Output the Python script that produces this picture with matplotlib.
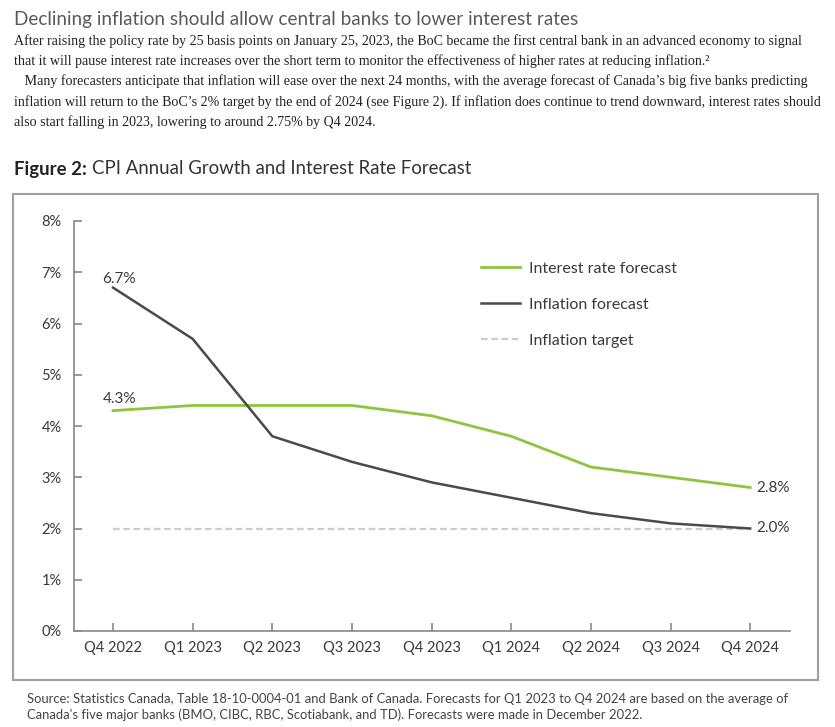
import matplotlib.pyplot as plt
from matplotlib.patches import Rectangle

quarters = ["Q4 2022", "Q1 2023", "Q2 2023", "Q3 2023", "Q4 2023",
            "Q1 2024", "Q2 2024", "Q3 2024", "Q4 2024"]
interest_rate = [4.3, 4.4, 4.4, 4.4, 4.2, 3.8, 3.2, 3.0, 2.8]
inflation = [6.7, 5.7, 3.8, 3.3, 2.9, 2.6, 2.3, 2.1, 2.0]
inflation_target = [2.0] * len(quarters)
y_ticks = [0, 1, 2, 3, 4, 5, 6, 7, 8]

GREEN = "#8cc63f"
DARK = "#4a4a4a"
TARGET = "#cccccc"
TEXT = "#3a3a3a"

plt.rcParams['font.family'] = ['Lato', 'DejaVu Sans']

W, H = 835, 727
fig = plt.figure(figsize=(W / 100, H / 100), dpi=100)


def fx(px):
    return px / W


def fy(py):
    return 1 - py / H


# text above the chart
fig.text(fx(14), fy(20), "Declining inflation should allow central banks to lower interest rates",
         fontsize=13.6, color="#5a5a5a", va="center", ha="left")
para = [
    "After raising the policy rate by 25 basis points on January 25, 2023, the BoC became the first central bank in an advanced economy to signal",
    "that it will pause interest rate increases over the short term to monitor the effectiveness of higher rates at reducing inflation.\u00b2",
    "   Many forecasters anticipate that inflation will ease over the next 24 months, with the average forecast of Canada\u2019s big five banks predicting",
    "inflation will return to the BoC\u2019s 2% target by the end of 2024 (see Figure 2). If inflation does continue to trend downward, interest rates should",
    "also start falling in 2023, lowering to around 2.75% by Q4 2024.",
]
for i, line in enumerate(para):
    fig.text(fx(14), fy(41 + i * 20.2), line, fontsize=10.1, family="Liberation Serif",
             color="#222222", va="center", ha="left")

# figure title
t1 = fig.text(fx(14), fy(169), "Figure 2:", fontsize=13.4, fontweight="bold",
              color="#222222", va="center", ha="left")
fig.canvas.draw()
bb = t1.get_window_extent()
fig.text(bb.x1 / W + fx(5), fy(169), "CPI Annual Growth and Interest Rate Forecast",
         fontsize=13.4, color="#333333", va="center", ha="left")

# frame around chart
fig.patches.append(Rectangle((fx(13), fy(680)), fx(818 - 13), fy(194) - fy(680),
                             transform=fig.transFigure, fill=False,
                             edgecolor="#a0a0a0", linewidth=1.5))

ax = fig.add_axes([fx(74), fy(631), fx(790 - 74), fy(221) - fy(631)])
x = list(range(len(quarters)))
ax.plot(x, inflation_target, color=TARGET, linewidth=1.6, dashes=(3, 1.6), label="Inflation target", zorder=1)
ax.plot(x, interest_rate, color=GREEN, linewidth=2, label="Interest rate forecast", zorder=2)
ax.plot(x, inflation, color=DARK, linewidth=1.8, label="Inflation forecast", zorder=3)

ax.set_xlim(-0.49, 8.5)
ax.set_ylim(0, 8)
ax.set_yticks(y_ticks)
ax.set_yticklabels([f"{v}%" for v in y_ticks])
ax.set_xticks(x)
ax.set_xticklabels(quarters)
for s in ["top", "right"]:
    ax.spines[s].set_visible(False)
for s in ["left", "bottom"]:
    ax.spines[s].set_color("#888888")
    ax.spines[s].set_linewidth(1.2)
ax.tick_params(axis="both", direction="in", length=6, width=1.2, color="#888888",
               labelsize=10.5, labelcolor=TEXT)
ax.tick_params(axis="y", pad=9)
ax.tick_params(axis="x", pad=7)
ax.patch.set_alpha(0)

# value labels
ax.annotate(f"{inflation[0]}%", (x[0], inflation[0]), xytext=(-7.5, 3), textcoords="offset points",
            fontsize=11, color=TEXT, ha="left", va="baseline")
ax.annotate(f"{interest_rate[0]}%", (x[0], interest_rate[0]), xytext=(-7.5, 5.5), textcoords="offset points",
            fontsize=11, color=TEXT, ha="left", va="baseline")
ax.annotate(f"{interest_rate[-1]:.1f}%", (x[-1], interest_rate[-1]), xytext=(4.5, 0), textcoords="offset points",
            fontsize=11, color=TEXT, ha="left", va="center")
ax.annotate(f"{inflation[-1]:.1f}%", (x[-1], inflation[-1]), xytext=(4.5, 0), textcoords="offset points",
            fontsize=11, color=TEXT, ha="left", va="center")

handles, labels = ax.get_legend_handles_labels()
order = [1, 2, 0]
leg = ax.legend([handles[i] for i in order], [labels[i] for i in order],
                loc="upper left", bbox_to_anchor=(fx(467), fy(247)), bbox_transform=fig.transFigure,
                frameon=False, fontsize=11.5, handlelength=2.4, handletextpad=0.6,
                labelspacing=1.38, labelcolor=TEXT)

fig.text(fx(27), fy(699), "Source: Statistics Canada, Table 18-10-0004-01 and Bank of Canada. Forecasts for Q1 2023 to Q4 2024 are based on the average of",
         fontsize=9.35, color="#444444", va="center", ha="left")
fig.text(fx(27), fy(715), "Canada's five major banks (BMO, CIBC, RBC, Scotiabank, and TD). Forecasts were made in December 2022.",
         fontsize=9.35, color="#444444", va="center", ha="left")

fig.savefig("out.png", dpi=100)
